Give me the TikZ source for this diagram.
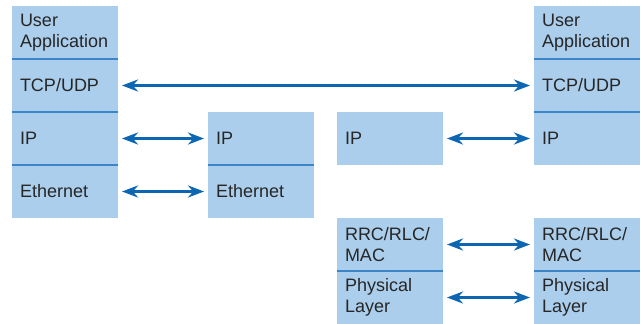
\documentclass[tikz,border=0pt]{standalone}
\usepackage{fontspec}
\setmainfont{Liberation Sans}
\usetikzlibrary{arrows.meta}
\definecolor{LayerBlue}{RGB}{171,206,236}
\definecolor{LineBlue}{RGB}{58,134,200}
\definecolor{ArrowBlue}{RGB}{12,102,178}
\begin{document}
\begin{tikzpicture}[x=0.5pt,y=-0.5pt]
  \tikzset{LayerStyle/.style = {shape          = rectangle,
                                fill           = LayerBlue,
                                text           = black!85,
                                anchor         = north west,
                                inner xsep     = 4pt,
                                inner ysep     = 0pt,
                                outer sep      = 0pt,
                                text width     = 45pt,
                                align          = left,
                                minimum height = 26.5pt,
                                font           = \fontsize{9}{10.5}\selectfont}}
  \tikzset{DividerStyle/.style = {line width = 1pt,
                                  draw       = LineBlue}}
  \tikzset{ArrowStyle/.style   = {line width = 1.5pt,
                                  draw       = ArrowBlue,
                                  {Stealth[length=8pt,width=6pt]}-{Stealth[length=8pt,width=6pt]},
                                  shorten <= 2pt,
                                  shorten >= 2pt}}

\useasboundingbox (0,0) rectangle (642,323);

% host stack
\node[LayerStyle] (A1) at (12,6)   {User\\Application};
\node[LayerStyle] (A2) at (12,59)  {TCP/UDP};
\node[LayerStyle] (A3) at (12,112) {IP};
\node[LayerStyle] (A4) at (12,165) {Ethernet};

% router
\node[LayerStyle] (B1) at (208,112) {IP};
\node[LayerStyle] (B2) at (208,165) {Ethernet};

% gateway
\node[LayerStyle] (C1) at (337,112) {IP};
\node[LayerStyle] (C2) at (337,218) {RRC/RLC/\\MAC};
\node[LayerStyle] (C3) at (337,271) {Physical\\Layer};

% device stack
\node[LayerStyle] (D1) at (534,6)   {User\\Application};
\node[LayerStyle] (D2) at (534,59)  {TCP/UDP};
\node[LayerStyle] (D3) at (534,112) {IP};
\node[LayerStyle] (D4) at (534,218) {RRC/RLC/\\MAC};
\node[LayerStyle] (D5) at (534,271) {Physical\\Layer};

\draw[DividerStyle] (A1.south west) -- (A1.south east);
\draw[DividerStyle] (A2.south west) -- (A2.south east);
\draw[DividerStyle] (A3.south west) -- (A3.south east);
\draw[DividerStyle] (B1.south west) -- (B1.south east);
\draw[DividerStyle] (C2.south west) -- (C2.south east);
\draw[DividerStyle] (D1.south west) -- (D1.south east);
\draw[DividerStyle] (D2.south west) -- (D2.south east);
\draw[DividerStyle] (D4.south west) -- (D4.south east);

\draw[ArrowStyle] (A2.east) -- (D2.west);
\draw[ArrowStyle] (A3.east) -- (B1.west);
\draw[ArrowStyle] (A4.east) -- (B2.west);
\draw[ArrowStyle] (C1.east) -- (D3.west);
\draw[ArrowStyle] (C2.east) -- (D4.west);
\draw[ArrowStyle] (C3.east) -- (D5.west);
\end{tikzpicture}
\end{document}
